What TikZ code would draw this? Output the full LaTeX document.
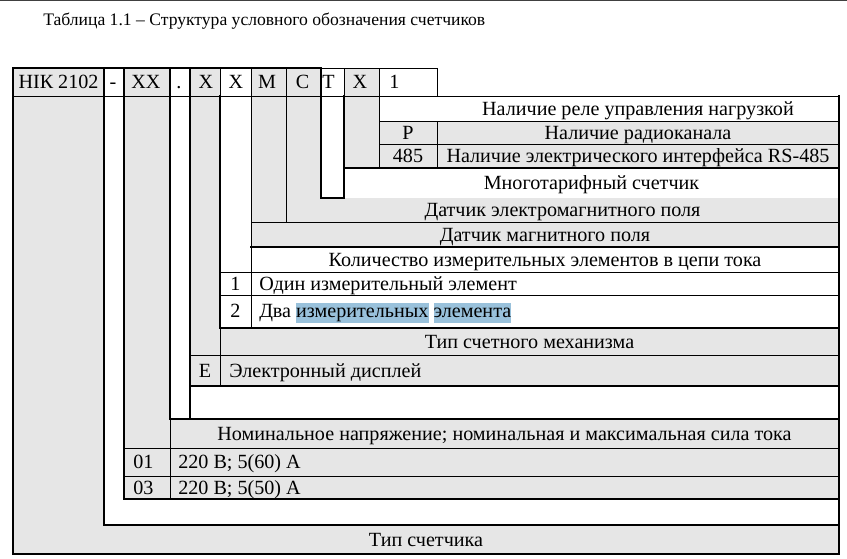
\documentclass[tikz,border=0pt]{standalone}
\usepackage{fontspec}
\setmainfont{Liberation Serif}
\usepackage{tikz}
\definecolor{cellgray}{RGB}{230,230,230}
\definecolor{selblue}{RGB}{153,193,219}
\tikzstyle{rulethick} = [line width=1.5pt,line cap=rect]
\tikzstyle{rulethin}  = [line width=0.75pt,line cap=rect]
\newcommand{\selmark}[1]{{\setlength{\fboxsep}{0pt}\colorbox{selblue}{\rule[-4.2pt]{0pt}{15.4pt}#1}}}

\begin{document}
\begin{tikzpicture}[x=0.75pt,y=-0.75pt,
    txt/.style={inner sep=0pt,text height=10pt,text depth=0pt,font=\fontsize{15.1}{18}\selectfont},
    ltxt/.style={txt,anchor=west},
  ]
  \useasboundingbox (0,0) rectangle (847,558);
  \fill[black!75] (0,0) rectangle (847,1.3);

  % grey L-shaped fields
  \foreach \l/\r/\t/\b in {13/104/525/554, 124/170/419/499, 190/220/328/386,
                           251/286/222/247, 286/321/198/222, 344/379/121/168}
    \fill[cellgray] (\l,68) -- (\r,68) -- (\r,\t) -- (839,\t) -- (839,\b) -- (\l,\b) -- cycle;

  \draw[rulethin]
    (321,68) -- (437,68)  (13,96) -- (839,96)
    (379,121) -- (839,121)  (379,144) -- (839,144)
    (251,222) -- (839,222)  (220,272) -- (839,272)  (220,295) -- (839,295)
    (190,355) -- (839,355)  (124,448) -- (839,448)  (124,476) -- (839,476)
    (220,68) -- (220,96)  (344,68) -- (344,96)  (251,68) -- (251,328)
    (286,68) -- (286,222)  (379,68) -- (379,168)  (437,68) -- (437,96)
    (437,121) -- (437,168)  (220,328) -- (220,386)  (170,419) -- (170,499);
  \draw[rulethick]
    (13,68) -- (321,68)  (344,168) -- (839,168)  (321,198) -- (344,198)
    (251,247) -- (839,247)  (220,328) -- (839,328)  (190,386) -- (839,386)
    (170,419) -- (839,419)  (124,499) -- (839,499)  (104,525) -- (839,525)
    (13,554) -- (839,554)
    (13,68) -- (13,554)  (104,68) -- (104,525)  (124,68) -- (124,499)
    (170,68) -- (170,419)  (190,68) -- (190,419)  (220,96) -- (220,328)
    (321,68) -- (321,198)  (344,96) -- (344,198)  (839,96) -- (839,554);

  \node[ltxt,font=\fontsize{13.2}{16}\selectfont,text height=8.8pt] (title) at (43,20)
    {Таблица 1.1 – Структура условного обозначения счетчиков};

  \node[txt] (hNik) at (58.5,82) {НІК 2102};
  \node[txt] (hDash) at (113,82) {-};
  \node[txt] (hXX) at (146,82) {ХХ};
  \node[txt] (hDot) at (179,82) {.};
  \node[txt] (hXa) at (206,82) {Х};
  \node[txt] (hXb) at (236,82) {Х};
  \node[txt] (hM) at (267,82) {М};
  \node[txt] (hC) at (302.5,82) {С};
  \node[ltxt] (hT) at (322,82) {Т};
  \node[txt] (hXc) at (360,82) {Х};
  \node[ltxt] (hOne) at (389,82) {1};

  \node[txt] (relay) at (638,108.5) {Наличие реле управления нагрузкой};
  \node[txt] (kP) at (408,132.5) {Р};
  \node[txt] (radio) at (638,132.5) {Наличие радиоканала};
  \node[txt] (k485) at (408,156) {485};
  \node[txt] (rs485) at (638,156) {Наличие электрического интерфейса RS-485};
  \node[txt] (tariff) at (591.5,183) {Многотарифный счетчик};
  \node[txt] (emfield) at (562.5,210) {Датчик электромагнитного поля};
  \node[txt] (mfield) at (545,234.5) {Датчик магнитного поля};
  \node[txt] (elems) at (545,259.5) {Количество измерительных элементов в цепи тока};
  \node[txt] (kOne) at (235.5,283.5) {1};
  \node[ltxt] (oneElem) at (259,283.5) {Один измерительный элемент};
  \node[txt] (kTwo) at (235.5,311) {2};
  \node[ltxt] (twoElem) at (259,311) {Два \selmark{измерительных} \selmark{элемента}};
  \node[txt] (counter) at (529.5,341.5) {Тип счетного механизма};
  \node[txt] (kE) at (205,370.5) {Е};
  \node[ltxt] (display) at (229,370.5) {Электронный дисплей};
  \node[txt] (nominal) at (504.5,433.5) {Номинальное напряжение; номинальная и максимальная сила тока};
  \node[ltxt] (k01) at (133,462) {01};
  \node[ltxt] (v01) at (178,462) {220 В; 5(60) А};
  \node[ltxt] (k03) at (133,487.5) {03};
  \node[ltxt] (v03) at (178,487.5) {220 В; 5(50) А};
  \node[txt] (meter) at (426,539.5) {Тип счетчика};
\end{tikzpicture}
\end{document}
